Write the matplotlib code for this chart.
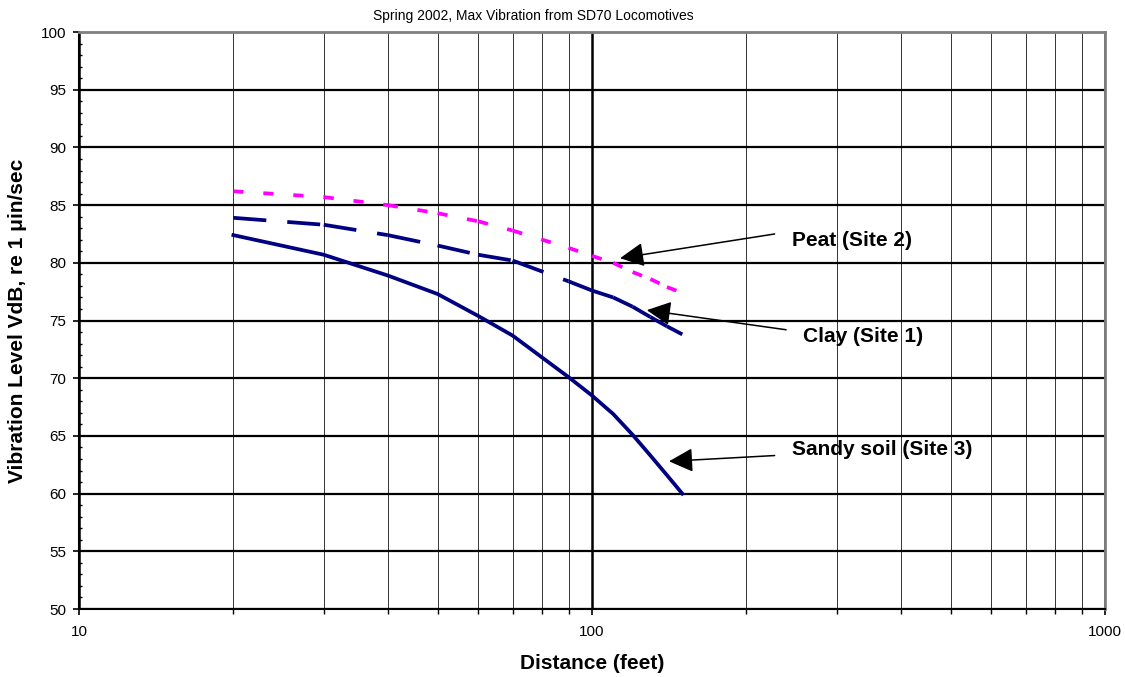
import matplotlib
matplotlib.use("Agg")
import matplotlib.pyplot as plt
from matplotlib.ticker import LogLocator, FixedLocator, NullFormatter, MultipleLocator

plt.rcParams['font.family'] = ['Liberation Sans', 'DejaVu Sans']

# distances (feet) where the curves are sampled
distance = [20, 30, 40, 50, 60, 70, 90, 100, 110, 120, 130, 140, 150]

# vibration levels, VdB re 1 micro-in/sec
sandy = [82.4, 80.7, 78.9, 77.3, 75.4, 73.7, 70.1, 68.5, 66.9, 65.1, 63.3, 61.6, 60.0]
clay = [83.9, 83.3, 82.4, 81.5, 80.7, 80.2, 78.4, 77.6, 77.0, 76.2, 75.3, 74.5, 73.8]
peat = [86.2, 85.7, 85.0, 84.3, 83.6, 82.8, 81.3, 80.6, 80.0, 79.2, 78.6, 77.9, 77.4]

fig = plt.figure(figsize=(11.25, 6.77), dpi=100)
ax = fig.add_axes([0.0702, 0.1004, 0.912, 0.8523])

ax.set_xscale('log')
ax.set_xlim(10, 1000)
ax.set_ylim(50, 100)

# grid
ax.xaxis.set_major_locator(FixedLocator([10, 100, 1000]))
ax.xaxis.set_minor_locator(LogLocator(base=10, subs=range(2, 10)))
ax.xaxis.set_minor_formatter(NullFormatter())
ax.set_xticklabels(['10', '100', '1000'])
ax.yaxis.set_major_locator(MultipleLocator(5))
ax.yaxis.set_minor_locator(MultipleLocator(1))

ax.grid(which='major', axis='x', color='black', linewidth=1.8)
ax.grid(which='minor', axis='x', color='#333333', linewidth=0.7)
ax.grid(which='major', axis='y', color='black', linewidth=1.6)
ax.set_axisbelow(True)

ax.tick_params(axis='x', which='major', direction='out', length=4.5, width=1.2, labelsize=11, pad=7)
ax.tick_params(axis='x', which='minor', direction='out', length=3.5, width=1)
ax.tick_params(axis='y', which='major', direction='out', length=4, width=1.2, labelsize=11, pad=5)
ax.tick_params(axis='y', which='minor', direction='in', length=2.5, width=1)

for side in ['left', 'bottom']:
    ax.spines[side].set_linewidth(1.5)
    ax.spines[side].set_color('black')
for side in ['top', 'right']:
    ax.spines[side].set_linewidth(2)
    ax.spines[side].set_color('#808080')

# curves; the dash pattern restarts at every data point, as in the original
lw = 2.7
ax.plot(distance, sandy, color='#000080', linewidth=lw)
for i in range(len(distance) - 1):
    ax.plot(distance[i:i + 2], clay[i:i + 2], color='#000080', linewidth=lw,
            dashes=(8.8, 5.6))
    ax.plot(distance[i:i + 2], peat[i:i + 2], color='#FF00FF', linewidth=lw,
            dashes=(2.7, 5.3))

# labels with arrows
arrow = dict(arrowstyle='-|>', color='black', lw=1.1, mutation_scale=37,
             shrinkA=0, shrinkB=0)
ax.annotate('', xy=(113.4, 80.4), xytext=(227, 82.5), arrowprops=arrow)
ax.annotate('', xy=(127.9, 75.9), xytext=(239, 74.2), arrowprops=arrow)
ax.annotate('', xy=(141.3, 62.8), xytext=(227, 63.3), arrowprops=arrow)

label_style = dict(fontsize=15, fontweight='bold', va='center', ha='left')
ax.text(245, 81.9, 'Peat (Site 2)', **label_style)
ax.text(257.5, 73.6, 'Clay (Site 1)', **label_style)
ax.text(245, 63.8, 'Sandy soil (Site 3)', **label_style)

fig.text(533 / 1125, 1 - 16 / 677, 'Spring 2002, Max Vibration from SD70 Locomotives',
         fontsize=10, ha='center', va='center')
ax.set_xlabel('Distance (feet)', fontsize=15, fontweight='bold', labelpad=11)
ax.set_ylabel('Vibration Level VdB, re 1 \u03bcin/sec', fontsize=15, fontweight='bold', labelpad=10)

fig.savefig('out.png', dpi=100)
